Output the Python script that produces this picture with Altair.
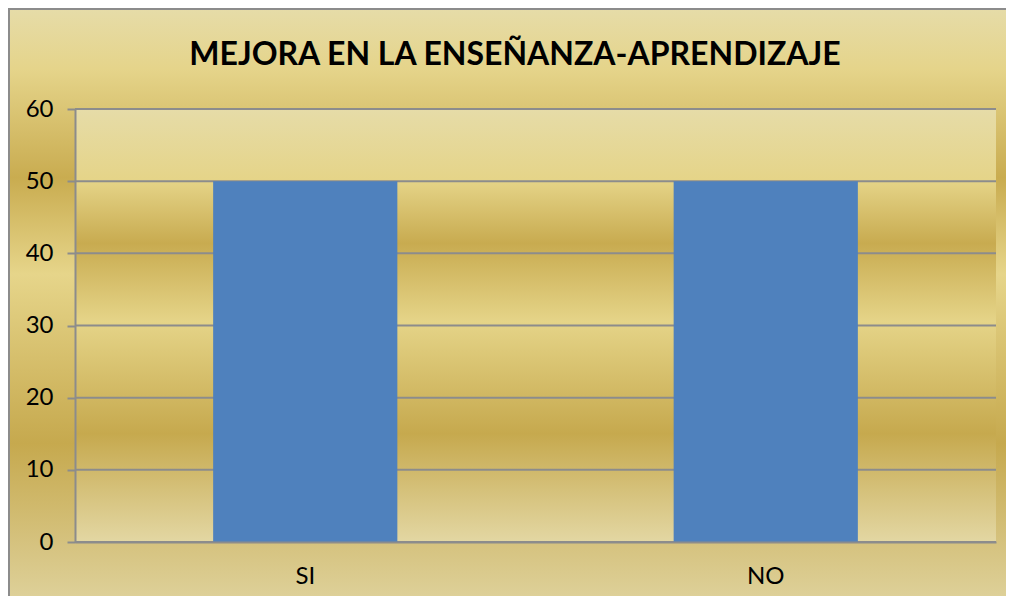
import altair as alt
import pandas as pd

categories = ["SI", "NO"]
values = [50, 50]
y_ticks = [0, 10, 20, 30, 40, 50, 60]
title_text = "MEJORA EN LA ENSEÑANZA-APRENDIZAJE"

W, H = 921, 433

df = pd.DataFrame({"cat": categories, "val": values})
grid_df = pd.DataFrame({"val": y_ticks})
one = pd.DataFrame({"t": [title_text]})


def grad(stops):
    return alt.Gradient(
        gradient="linear", x1=0, x2=0, y1=0, y2=1,
        stops=[alt.GradientStop(offset=o, color=c) for o, c in stops],
    )


outer_stops = [(0, "#e6dca8"), (0.1, "#e5d48a"), (0.28, "#c9ac50"),
               (0.44, "#e6d58a"), (0.72, "#c6a94e"), (1, "#e0d4a0")]
inner_stops = [(0, "#e6dca8"), (0.165, "#e5d488"), (0.31, "#c8ab50"),
               (0.49, "#e5d488"), (0.75, "#c6a94e"), (1, "#e3d7a3")]

yscale = alt.Scale(domain=[0, 60], nice=False)
yaxis = alt.Axis(values=y_ticks, grid=False, tickSize=8, tickColor="#8c8c8c",
                 tickWidth=2, domainColor="#8c8c8c", domainWidth=2,
                 labelFontSize=24, labelFont="Lato", labelColor="black",
                 labelPadding=14, zindex=1)

outer = alt.Chart(one).mark_rect(
    fill=grad(outer_stops), stroke="#8c8c8c", strokeWidth=2
).encode(x=alt.value(-66), x2=alt.value(W + 60), y=alt.value(-100), y2=alt.value(H + 70))

inner = alt.Chart(one).mark_rect(fill=grad(inner_stops)).encode(
    x=alt.value(0), x2=alt.value(W), y=alt.value(0), y2=alt.value(H)
)

title = alt.Chart(one).mark_text(
    font="Lato", fontSize=32, fontWeight="bold", color="black",
    align="center", baseline="middle"
).encode(text="t:N", x=alt.value(440), y=alt.value(-54))

rules = alt.Chart(grid_df).mark_rule(color="#8c8c8c", strokeWidth=2).encode(
    y=alt.Y("val:Q", scale=yscale, title=None, axis=yaxis),
    x=alt.value(0), x2=alt.value(W),
)

bars = alt.Chart(df).mark_bar(color="#4f81bd", width=alt.RelativeBandSize(0.4)).encode(
    x=alt.X("cat:N", sort=categories, title=None,
            scale=alt.Scale(paddingInner=0, paddingOuter=0),
            axis=alt.Axis(labelAngle=0, ticks=False, tickSize=0, labelFontSize=24,
                          labelFont="Lato", labelColor="black", labelPadding=22,
                          domainColor="#8c8c8c", domainWidth=2, zindex=1)),
    y=alt.Y("val:Q", scale=yscale, title=None, axis=yaxis),
)

chart = alt.layer(outer, inner, rules, bars, title).properties(
    width=W, height=H,
    autosize=alt.AutoSizeParams(type="none"),
    padding={"left": 67, "top": 101, "right": 10, "bottom": 54},
    background="white",
).configure_view(stroke=None)

chart.save("out.html", embed_options={"renderer": "svg", "actions": False})
